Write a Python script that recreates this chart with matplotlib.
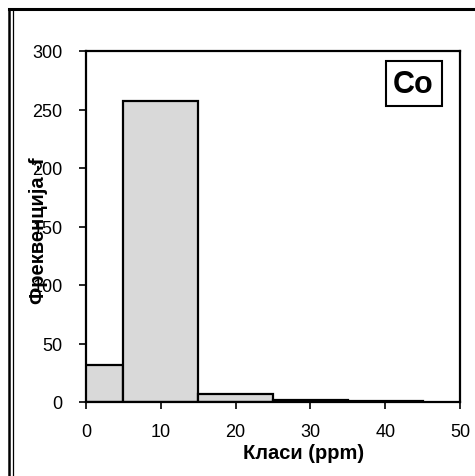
import matplotlib
matplotlib.use("Agg")
import matplotlib.pyplot as plt
from matplotlib.lines import Line2D

# Co class frequencies (bin centres in ppm, bin width 10)
class_centres = [0, 10, 20, 30, 40]
frequencies = [32, 257, 7, 2, 1]
x_ticks = [0, 10, 20, 30, 40, 50]
y_ticks = [0, 50, 100, 150, 200, 250, 300]

plt.rcParams["font.family"] = ["Liberation Sans", "DejaVu Sans"]

fig = plt.figure(figsize=(4.75, 4.77), dpi=100)
ax = fig.add_axes([86 / 475, 1 - 403 / 477, 374 / 475, 351 / 477])

ax.bar(class_centres, frequencies, width=10, color="#d9d9d9",
       edgecolor="black", linewidth=1.6, zorder=2)

ax.set_xlim(0, 50)
ax.set_ylim(0, 300)
ax.set_xticks(x_ticks)
ax.set_yticks(y_ticks)
ax.tick_params(axis="both", direction="out", length=5, width=1.2,
               labelsize=13, colors="black")
ax.tick_params(axis="x", pad=10)
ax.tick_params(axis="y", pad=12)
for side in ax.spines.values():
    side.set_linewidth(1.6)

ax.set_xlabel("Класи (ppm)", fontsize=14.5, fontweight="bold")
ax.xaxis.set_label_coords(0.583, -0.118)
ax.set_ylabel("Фреквенција -f", fontsize=14.5, fontweight="bold", va="center")
ax.yaxis.set_label_coords(-0.128, 0.49)

ax.text(0.876, 0.907, "Co", transform=ax.transAxes, fontsize=22,
        fontweight="bold", ha="center", va="center", zorder=5,
        bbox=dict(boxstyle="square,pad=0.25", facecolor="white",
                  edgecolor="black", linewidth=1.5))

# frame lines along the top and left edge
fig.add_artist(Line2D([9 / 475, 1], [1 - 10 / 477, 1 - 10 / 477],
                      transform=fig.transFigure, color="black", linewidth=2.2))
fig.add_artist(Line2D([9 / 475, 9 / 475], [0, 1 - 10 / 477],
                      transform=fig.transFigure, color="black", linewidth=1.8))
fig.add_artist(Line2D([12.5 / 475, 12.5 / 475], [0, 1 - 12 / 477],
                      transform=fig.transFigure, color="black", linewidth=0.9))

fig.savefig("out.png", dpi=100)
